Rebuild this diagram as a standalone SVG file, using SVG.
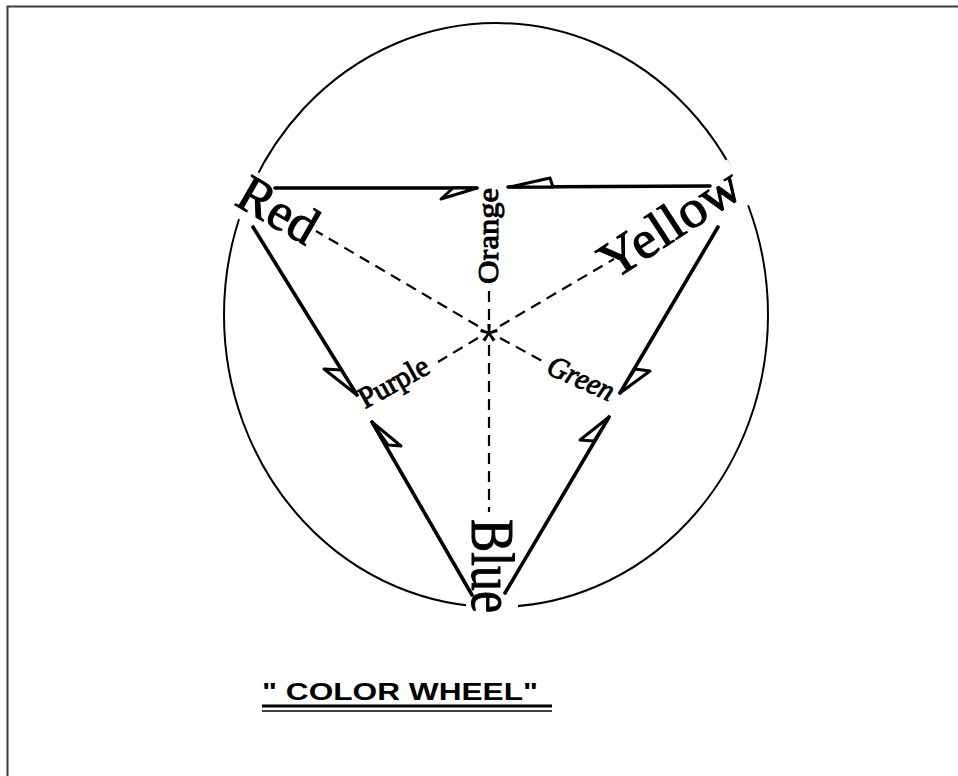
<svg xmlns="http://www.w3.org/2000/svg" width="958" height="776" viewBox="0 0 958 776">
<style>
.frame{stroke:#3a3a3a;stroke-width:2;fill:none}
.wheel{stroke:#000;stroke-width:2;fill:none}
.solid{stroke:#000;stroke-width:3.6;fill:none;stroke-linecap:round}
.dash{stroke:#000;stroke-width:2.2;fill:none;stroke-dasharray:11 7}
.head{stroke:#000;stroke-width:3;fill:#fff;stroke-linejoin:round}
.lbl{font-family:"Liberation Serif","Times New Roman",serif;fill:#000;stroke:#000;stroke-width:1;stroke-linejoin:round}
.title{font-family:"Liberation Sans",Arial,sans-serif;font-weight:bold;fill:#000}
</style>
<defs>
  <mask id="gaps" maskUnits="userSpaceOnUse" x="0" y="0" width="958" height="776">
    <rect x="0" y="0" width="958" height="776" fill="#fff"/>
    <rect x="-4" y="-40" width="92" height="50" fill="#000" transform="translate(233,204) rotate(30)"/>
    <rect x="-2" y="-40" width="164" height="50" fill="#000" transform="translate(613,281) rotate(-33)"/>
    <rect x="-2" y="-46" width="98" height="52" fill="#000" transform="translate(472,519) rotate(90)"/>
  </mask>
</defs>
<rect x="0" y="0" width="958" height="776" fill="#fff"/>
<path class="frame" d="M7.5 776 V6.5 H958"/>
<ellipse class="wheel" cx="496" cy="315" rx="272" ry="292" mask="url(#gaps)"/>
<g id="connectors">
  <line class="solid" x1="275" y1="188" x2="477" y2="188"/>
  <polygon class="head" points="477,188 441,199 453,188"/>
  <line class="solid" x1="508" y1="187" x2="710" y2="186"/>
  <polygon class="head" points="510,187 550,178 553,187"/>
  <line class="solid" x1="253" y1="227" x2="357" y2="395"/>
  <polygon class="head" points="357,395 324,369 341,370"/>
  <line class="solid" x1="718" y1="227" x2="620" y2="393"/>
  <polygon class="head" points="620,393 650,371 635,369"/>
  <line class="solid" x1="372" y1="422" x2="472" y2="595"/>
  <polygon class="head" points="372,422 401,446 388,445"/>
  <line class="solid" x1="505" y1="593" x2="609" y2="417"/>
  <polygon class="head" points="609,417 580,440 594,441"/>
  <line class="dash" x1="478" y1="326" x2="316" y2="231"/>
  <line class="dash" x1="500" y1="326" x2="614" y2="259"/>
  <line class="dash" x1="489" y1="320" x2="489" y2="286"/>
  <line class="dash" x1="489" y1="345" x2="489" y2="512"/>
  <line class="dash" x1="478" y1="338" x2="438" y2="362"/>
  <line class="dash" x1="500" y1="338" x2="544" y2="362"/>
</g>
<g id="red"><text class="lbl" font-size="53" textLength="84" lengthAdjust="spacingAndGlyphs" transform="translate(233,204) rotate(30)">Red</text></g>
<g id="yellow"><text class="lbl" font-size="53" textLength="158" lengthAdjust="spacingAndGlyphs" transform="translate(613,281) rotate(-33)">Yellow</text></g>
<g id="blue"><text class="lbl" font-size="62" textLength="94" lengthAdjust="spacingAndGlyphs" transform="translate(472,519) rotate(90)">Blue</text></g>
<g id="orange"><text class="lbl" font-size="30" stroke-width="0.6" textLength="96" lengthAdjust="spacingAndGlyphs" transform="translate(498,284) rotate(-90)">Orange</text></g>
<g id="purple"><text class="lbl" font-size="30" stroke-width="0.6" textLength="76" lengthAdjust="spacingAndGlyphs" transform="translate(365,409) rotate(-29)">Purple</text></g>
<g id="green"><text class="lbl" font-size="30" stroke-width="0.6" font-style="italic" textLength="70" lengthAdjust="spacingAndGlyphs" transform="translate(545,373) rotate(24)">Green</text></g>
<g id="center"><text x="489" y="359" font-size="50" text-anchor="middle" font-family="Liberation Sans,Arial,sans-serif">*</text></g>
<g id="title">
  <text class="title" x="262" y="700" font-size="24" textLength="276" lengthAdjust="spacingAndGlyphs">" COLOR WHEEL"</text>
  <line x1="262" y1="706" x2="552" y2="706" stroke="#000" stroke-width="3"/>
  <line x1="262" y1="711" x2="552" y2="711" stroke="#000" stroke-width="1.5"/>
</g>
</svg>
